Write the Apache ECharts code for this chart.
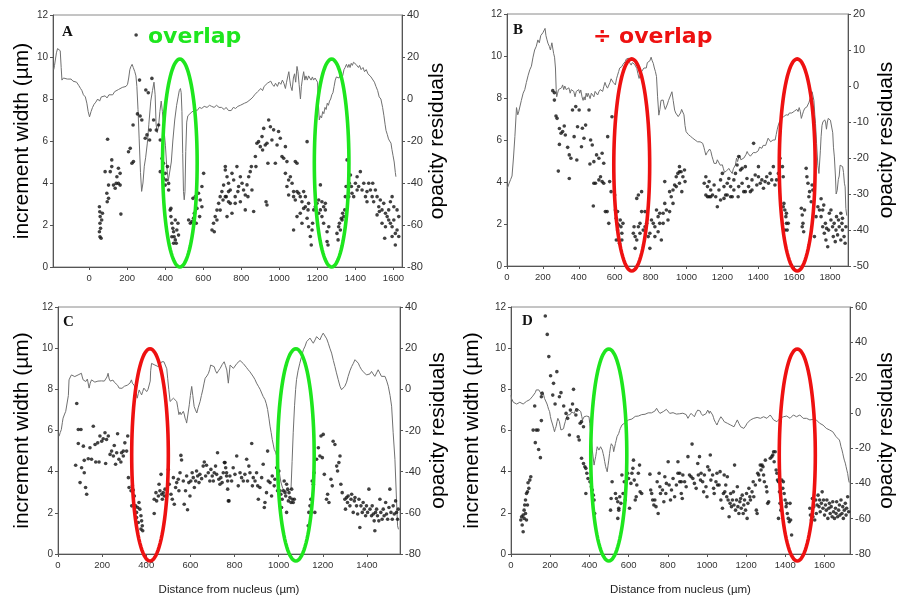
<!DOCTYPE html>
<html>
<head>
<meta charset="utf-8">
<script src="https://cdn.jsdelivr.net/npm/echarts@6/dist/echarts.min.js"></script>
<style>html,body{margin:0;padding:0;background:#fff}#c{width:898px;height:597px}</style>
</head>
<body>
<div id="c"></div>
<script>
// ---------- tick labels ----------
const xTicksA = [0,200,400,600,800,1000,1200,1400,1600];
const xTicksB = [0,200,400,600,800,1000,1200,1400,1600,1800];
const xTicksC = [0,200,400,600,800,1000,1200,1400];
const xTicksD = [0,200,400,600,800,1000,1200,1400,1600];
const leftTicks = [0,2,4,6,8,10,12];
const rightTicksA = [-80,-60,-40,-20,0,20,40];
const rightTicksB = [-50,-40,-30,-20,-10,0,10,20];
const rightTicksC = [-80,-60,-40,-20,0,20,40];
const rightTicksD = [-80,-60,-40,-20,0,20,40,60];

// ---------- opacity residuals (line, right axis) [distance, residual] ----------
const lineA = [[-186,14],[-182,16],[-172,22],[-166,24],[-160,23.5],[-152,23],[-147,15],[-143,9],[-135,10],[-126,9.5],[-115,9.5],[-105,9],[-95,9.5],[-85,8.5],[-75,9],[-66,8],[-55,6.5],[-45,5],[-38,4],[-30,2],[-20,1],[-12,-2],[-5,-6],[2,-8.5],[10,-6],[18,-4],[26,-2.5],[35,-1.5],[45,0],[55,-1],[64,1],[74,0.5],[84,1.5],[94,0.5],[104,2],[114,2.5],[124,2],[134,3.5],[144,3],[154,4.5],[164,4],[174,5.5],[184,5],[194,6],[202,7],[208,10],[214,14],[220,15.5],[226,16.5],[232,15],[240,13],[246,11],[251,6],[257,-5],[263,-19],[270,-35],[276,-44],[283,-40],[290,-32],[297,-28],[306,-21],[314,-12],[324,-1],[333,4],[341,8],[347,2],[352,-12],[358,-16],[365,-13],[372,-6],[379,-1],[385,-6],[393,-14],[401,-22],[408,-32],[416,-39],[424,-39],[432,-30],[440,-20],[450,-10],[460,-3],[468,1],[474,4],[480,5],[484,3],[488,-6],[492,-26],[496,-44],[500,-48],[504,-44],[508,-25],[513,-11],[519,-8],[527,-8],[536,-6.5],[545,-6],[557,-5],[568,-5.5],[580,-4],[592,-4.5],[605,-3.5],[620,-4],[633,-3],[644,-3.5],[657,-4],[670,-3],[683,-4],[696,-4],[710,-5],[720,-4],[733,-5.5],[747,-5.5],[758,-4],[770,-4.5],[782,-3.5],[795,-3],[805,-3.5],[817,-2],[830,-1.5],[840,-1],[851,0],[862,1],[870,2],[878,1.5],[886,3.5],[895,4],[903,5],[912,4],[920,6],[930,6.5],[937,7.5],[945,7],[955,8.5],[963,7],[972,6],[980,7.5],[990,6],[998,8],[1008,7],[1016,9],[1024,7.5],[1032,5],[1038,8],[1045,11],[1050,13],[1055,9],[1060,6],[1067,4],[1074,10],[1080,12],[1086,8],[1093,15.5],[1098,13],[1104,7],[1111,0],[1116,6],[1122,10],[1128,13],[1134,9],[1140,11],[1147,9],[1154,11],[1160,10],[1167,9],[1174,10.5],[1180,9],[1188,10],[1196,10.5],[1201,8],[1205,-2],[1210,-10],[1216,-8],[1222,-9],[1228,-6],[1234,-7],[1240,-4],[1246,-5],[1252,-2],[1258,-3],[1264,-1],[1270,0],[1276,2],[1282,3],[1288,6],[1294,9],[1300,10.5],[1307,11],[1314,10],[1320,11.5],[1327,12],[1333,11],[1340,14],[1346,15],[1353,16.5],[1360,15],[1366,16.5],[1372,15],[1378,17],[1384,16],[1390,17.5],[1396,18],[1403,16.5],[1410,17],[1416,15],[1422,16],[1430,14],[1440,15],[1448,13],[1457,14],[1466,12],[1474,12],[1482,10.5],[1491,10],[1500,8],[1508,6],[1517,4],[1525,1],[1534,0],[1543,-4],[1550,-8],[1556,-12],[1561,-15],[1568,-17],[1574,-19],[1580,-20],[1587,-21],[1592,-24],[1598,-27],[1604,-30],[1610,-35],[1613,-37]];

const lineB = [[2,-28.4],[12,-27],[20,-26],[28,-25],[36,-20],[44,-14],[53,-6],[60,-8],[66,-7],[72,-6.5],[80,-4],[90,-2],[99,-1],[108,1],[118,3],[127,4.5],[136,5.5],[145,8],[154,10],[163,11],[172,12.8],[180,12],[188,14],[195,13.5],[200,14.8],[207,15],[212,16],[217,14],[222,13],[228,11.9],[236,11],[242,10],[246,11],[250,12],[255,12],[260,9],[265,8],[270,5],[274,-1],[277,-3],[282,-2],[287,-1],[292,-0.6],[298,-1.5],[304,-0.5],[310,0.3],[316,-1],[322,0],[330,-1],[338,-1.1],[345,-0.5],[352,-2],[358,-1],[365,-0.6],[372,-1.5],[379,-3],[386,-1.5],[393,-2],[400,-1],[405,-2],[411,-1.1],[418,-3],[424,-4],[430,-3],[435,-3.9],[441,-2],[447,-3],[452,-2],[457,-2.5],[463,-3.5],[470,-2],[477,-2.5],[484,-3],[491,-1.5],[498,-1],[505,-2.5],[512,-1.6],[520,-1],[527,-0.5],[533,-1.5],[539,-0.2],[546,1],[553,0],[560,-0.6],[567,-0.6],[574,1],[580,2],[585,1.7],[592,1],[598,0.5],[604,0.3],[610,2],[616,3],[622,4],[628,5],[634,5],[640,5.4],[646,6],[652,6.5],[659,6.8],[665,7.5],[671,8],[677,7.7],[683,6.5],[688,6],[692,5.8],[698,6.5],[705,6.8],[711,6],[717,5.5],[723,4.9],[729,3.5],[736,2.1],[742,3],[750,4],[757,4.5],[763,5],[769,5.4],[776,5],[782,6.5],[789,7],[796,7],[803,8],[809,7],[815,6.3],[821,5],[827,4],[833,2.6],[839,-3],[846,-8.1],[852,-6.5],[858,-4],[864,-4.5],[870,-3.9],[876,-5.5],[882,-6.5],[888,-6.7],[894,-5],[900,-4],[906,-3.9],[912,-2.5],[919,-1.6],[926,-4],[934,-6.7],[940,-7.5],[947,-8],[954,-8.5],[961,-8.5],[967,-7.5],[973,-6.5],[980,-6.2],[986,-8],[992,-11],[998,-12.7],[1005,-12.5],[1011,-13.5],[1017,-13.1],[1023,-14],[1029,-13.5],[1035,-14.5],[1042,-14],[1048,-15],[1055,-14.5],[1062,-15.5],[1069,-15],[1076,-15.5],[1083,-16],[1090,-15.9],[1097,-17],[1102,-18],[1108,-19.2],[1115,-18.5],[1122,-18],[1129,-17.5],[1136,-18.2],[1142,-19.5],[1148,-20.5],[1154,-21.5],[1160,-21],[1166,-21.5],[1172,-20.5],[1177,-21],[1182,-21],[1188,-22],[1194,-21.5],[1200,-21.9],[1206,-23],[1212,-24],[1218,-24.3],[1224,-23.5],[1231,-23],[1237,-22.9],[1243,-23.5],[1249,-24],[1255,-24.3],[1261,-23],[1267,-22.5],[1273,-21.9],[1279,-20],[1285,-21],[1291,-19.8],[1297,-19.2],[1303,-20.5],[1309,-20],[1314,-20.6],[1320,-20],[1326,-19.5],[1332,-19],[1338,-18.2],[1344,-18.8],[1350,-19],[1356,-19.5],[1365,-19.6],[1372,-18.5],[1379,-18],[1386,-18.5],[1393,-18.2],[1400,-18],[1407,-17],[1414,-17.5],[1420,-17.3],[1427,-16.5],[1434,-16],[1441,-16.5],[1448,-15.5],[1455,-14.5],[1462,-15],[1469,-15.5],[1475,-15.9],[1482,-15],[1488,-14.5],[1494,-15],[1500,-13.5],[1506,-12],[1512,-10.8],[1518,-10],[1524,-9.5],[1530,-9],[1536,-9.2],[1542,-8.5],[1548,-8.8],[1555,-8],[1561,-8.5],[1567,-8.1],[1573,-7.5],[1580,-8],[1587,-7.5],[1594,-7.6],[1601,-7],[1608,-7.5],[1615,-6.5],[1622,-7.1],[1628,-6],[1634,-7],[1640,-9],[1646,-8],[1652,-7],[1659,-6.2],[1665,-6],[1671,-5.8],[1677,-5.3],[1683,-4.5],[1689,-3.5],[1695,-2.5],[1700,-1.6],[1705,-1.6],[1710,-4],[1715,-8],[1719,-10.4],[1725,-16],[1732,-22],[1738,-24.3],[1742,-24.7],[1746,-18],[1750,-14.1],[1755,-11],[1760,-10],[1765,-10],[1770,-9.4],[1775,-10],[1780,-12],[1785,-10],[1790,-9],[1796,-9.2],[1802,-9.5],[1807,-9.8],[1811,-10],[1815,-13],[1819,-17],[1824,-19.7],[1830,-25],[1834,-30],[1840,-29],[1846,-26],[1851,-25],[1856,-22],[1861,-21.5],[1866,-21.8],[1870,-22.4],[1875,-24],[1880,-27],[1884,-28],[1888,-34],[1893,-36]];

const lineC = [[5,-22.8],[10,-21],[15,-19.6],[20,-16],[23,-14],[30,-12],[35,-10.7],[42,-11],[47,-3],[50,4.6],[56,6],[61,7],[68,6.5],[76,6.2],[83,7],[91,7],[98,6.5],[106,7.8],[110,6],[114,4.6],[120,5],[126,3.8],[133,5],[141,0.6],[146,3],[152,4.6],[160,4],[167,3.5],[174,3],[181,4],[189,4.5],[197,4.1],[204,5],[210,4],[217,4.6],[222,6],[227,7.8],[232,5],[237,4],[242,3.8],[249,4.5],[255,3.5],[262,3],[270,2],[277,0.6],[284,1],[290,0.5],[295,0.6],[301,1.5],[308,2.2],[314,2],[320,2.5],[326,3],[333,4.6],[337,3],[341,2.2],[345,2],[348,1.4],[353,-1],[359,-4.3],[364,-2],[368,-0.3],[373,-1.5],[379,-2.7],[384,-1],[389,0.6],[395,0],[402,-1.1],[408,0],[414,0.6],[418,4],[420,9],[424,12.6],[430,12],[439,11.8],[447,11.5],[455,11],[462,12],[470,13.4],[475,12.5],[480,13.4],[485,13],[489,14.2],[493,10],[497,5.4],[502,0],[508,-5.9],[515,-5],[523,-4.3],[530,-5],[538,-5.9],[543,-9],[548,-12.3],[553,-11],[558,-12.3],[563,-11.5],[568,-10.7],[572,-12],[576,-14],[580,-15],[583,-16.4],[589,-12],[595,-7.5],[600,-3],[606,1.4],[611,-3],[617,-8.3],[623,-10],[629,-11.5],[635,-9],[644,-5.9],[650,-3],[656,-0.3],[662,3],[667,5.4],[675,6.5],[682,7.8],[687,9.5],[692,11.8],[700,11.5],[708,11],[714,9],[720,7.8],[727,9],[735,10.2],[744,12],[753,13.4],[759,11.5],[765,9.4],[772,3],[780,11.8],[787,12.7],[795,10.2],[802,9.5],[811,12.6],[817,13.5],[825,14],[832,13.5],[840,12.5],[847,11.9],[855,10.5],[862,9.5],[870,8.5],[878,7.9],[886,6],[893,4.7],[900,3],[908,1.5],[916,0],[923,-1.8],[930,-3.5],[938,-5],[944,-7],[950,-9.8],[956,-14],[961,-17.9],[966,-21],[971,-24.4],[976,-27],[980,-29.2],[986,-30.5],[991,-32.4],[995,-35],[998,-37.3],[1004,-41],[1010,-45],[1018,-48],[1026,-49],[1036,-49.4],[1046,-49],[1052,-48.8],[1056,-48.5],[1061,-35],[1066,-21.1],[1072,-8],[1077,0],[1081,4.7],[1088,9],[1096,12.7],[1104,16],[1112,19.2],[1120,21],[1127,23.2],[1134,24],[1142,24.9],[1150,23.5],[1157,22.4],[1165,24],[1172,25.6],[1180,25],[1187,24],[1195,26],[1202,27.3],[1206,28],[1210,26.5],[1218,24.5],[1225,22.4],[1232,20],[1240,17.6],[1248,14],[1255,11.1],[1262,8],[1270,4.7],[1278,1.5],[1285,-0.2],[1292,0],[1300,1.5],[1308,3.5],[1315,6.3],[1323,9],[1331,11.1],[1338,12.5],[1346,14.4],[1353,14],[1361,12.7],[1368,11],[1376,9.5],[1384,8.5],[1391,7.9],[1398,7],[1406,6.3],[1414,7.5],[1421,8.7],[1428,7.5],[1436,6.3],[1444,8],[1451,9.5],[1458,8],[1466,6.3],[1474,6.5],[1482,6.3],[1490,4],[1497,1.5],[1505,-3],[1512,-8.2],[1519,-21.1],[1527,-34],[1534,-53.4],[1539,-66.3],[1543,-68]];

const lineD = [[0,10],[3,8],[12,6],[20,6],[29,5],[37,5.5],[45,6],[53,5],[62,5],[70,5.5],[79,6.5],[87,7],[96,7.5],[104,8.5],[111,9.5],[118,10.5],[124,11.5],[129,13],[134,12],[138,12],[142,13],[146,13],[150,11.5],[155,11.1],[159,12],[163,12],[167,10],[171,8.2],[176,7.5],[180,7.3],[184,5],[188,3.5],[192,2],[197,0.7],[201,-2],[205,-4],[209,-5],[213,-6.9],[218,-9],[222,-10.7],[226,-9],[230,-7.8],[235,-5],[239,-3.1],[243,-4],[247,-5],[251,-7.5],[255,-9.7],[260,-10.5],[264,-10.7],[268,-9],[272,-6.9],[277,-5],[281,-3.1],[285,-2],[289,-1.2],[294,-0.5],[298,-0.3],[302,-1],[306,-1.2],[310,0.5],[314,1.6],[319,0.5],[323,-0.3],[327,1],[331,2.6],[335,2],[339,1.6],[343,2],[348,2.6],[352,1.5],[356,0.7],[361,-2],[365,-4],[369,-3],[373,-2.2],[377,-1.5],[381,-1.2],[386,-1.8],[390,-2.2],[394,-2.5],[398,-2.2],[402,-6],[407,-11.6],[411,-16],[415,-21.1],[419,-25],[424,-29.6],[428,-27],[432,-24.9],[436,-22],[440,-19.2],[444,-20],[449,-21.1],[453,-20],[457,-19.2],[461,-20],[466,-21.1],[470,-23],[474,-24.9],[478,-27.5],[483,-30.5],[487,-32],[491,-33.4],[495,-30],[499,-26.8],[503,-23],[508,-19.2],[512,-17.5],[516,-16.4],[520,-19],[524,-22],[528,-20],[533,-17.3],[537,-15.5],[541,-13.5],[545,-12.5],[550,-11.6],[554,-10],[558,-8.8],[562,-7.8],[566,-6.9],[570,-6.5],[575,-5.9],[583,-5.5],[592,-5],[600,-4],[608,-3.1],[617,-3.5],[625,-3.1],[634,-2],[642,-1.2],[650,-1.8],[659,-2.2],[667,-1],[676,-0.3],[684,-0.8],[692,-1.2],[700,0],[709,0.7],[717,0],[726,-0.3],[734,1],[743,2.6],[751,1],[760,-0.3],[768,0.5],[777,0.7],[785,1.5],[793,2],[801,1],[810,-0.3],[818,0],[827,0.1],[835,-0.5],[844,-0.7],[852,-0.3],[861,-0.5],[869,-1.2],[877,-0.2],[886,0.7],[894,-1],[903,-3.1],[911,-1.5],[919,-0.3],[928,-1],[936,-2.2],[944,0],[953,1.6],[961,2.6],[966,1],[970,-0.3],[978,-1.5],[987,-2.2],[995,-0.5],[1004,1.6],[1008,0.5],[1012,-0.3],[1016,1],[1020,1.6],[1025,0],[1029,-1.2],[1033,-2.5],[1037,-4],[1044,-5.5],[1051,-6.9],[1056,-5.5],[1062,-4],[1067,-3],[1071,-2.2],[1080,-3.5],[1088,-5],[1096,-5.5],[1104,-5.9],[1113,-6.5],[1121,-6.9],[1130,-7.5],[1138,-7.9],[1146,-6],[1155,-4],[1163,-6],[1172,-7.9],[1180,-8.5],[1188,-8.8],[1197,-7.5],[1205,-5.9],[1214,-5],[1222,-4],[1231,-3.5],[1239,-3.1],[1248,-2.8],[1256,-2.6],[1264,-3],[1273,-3.1],[1281,-2.5],[1289,-2.2],[1298,-2.8],[1306,-3.1],[1315,-2],[1323,-1.2],[1331,-2.5],[1340,-4],[1348,-4.5],[1357,-5],[1365,-4],[1373,-3.1],[1382,-2.5],[1390,-2.2],[1398,-2],[1407,-1.8],[1416,-2.5],[1424,-3.1],[1432,-2],[1441,-1.2],[1449,-1.8],[1457,-2.2],[1466,-1.5],[1474,-1.2],[1482,-2],[1491,-3.1],[1500,-3],[1508,-3.1],[1516,-3.5],[1525,-4],[1533,-3.8],[1541,-3.7],[1550,-3.8],[1558,-4],[1566,-5],[1575,-5.9],[1583,-6.5],[1592,-6.9],[1600,-8],[1609,-8.8],[1617,-9.2],[1626,-9.7],[1634,-10],[1642,-10.7],[1650,-12],[1659,-13.5],[1667,-14.5],[1676,-15.4],[1680,-17],[1684,-19.2],[1689,-21],[1693,-22.9],[1697,-25],[1701,-26.8],[1706,-28.5],[1710,-30.5],[1714,-32.5],[1718,-34.3],[1723,-38.1],[1726,-39.5]];

// ---------- increment width (dots, left axis) [distance, width] ----------
const dotsA = [[247,11.05],[54,2.87],[56,2.63],[58,2.4],[57,2.08],[60,1.84],[54,1.68],[57,1.44],[63,1.37],[66,2.24],[70,2.56],[84,4.54],[93,3.51],[102,3.9],[111,4.54],[119,5.1],[97,6.08],[119,4.78],[128,3.9],[137,3.75],[142,3.98],[146,4.3],[154,3.98],[163,4.46],[154,4.7],[163,3.9],[167,2.52],[95,3.11],[102,3.27],[207,5.49],[216,5.65],[225,4.94],[233,5.02],[231,6.76],[254,7.29],[268,7.19],[277,7.0],[265,8.9],[298,8.43],[311,8.3],[295,6.13],[304,6.29],[321,6.52],[318,6.05],[330,8.98],[339,7.0],[353,6.52],[365,6.76],[374,6.05],[383,5.17],[391,4.94],[400,4.46],[374,4.54],[391,4.22],[405,4.14],[412,4.78],[418,3.98],[400,3.9],[418,3.67],[426,2.71],[430,2.4],[435,2.08],[440,1.84],[444,1.68],[447,1.44],[453,1.29],[458,1.13],[444,1.13],[461,1.76],[467,2.08],[430,2.79],[453,2.24],[470,1.52],[435,1.44],[523,2.24],[532,2.08],[540,2.16],[549,2.32],[553,2.56],[546,3.27],[558,3.35],[567,2.79],[575,3.51],[584,3.19],[593,2.87],[563,2.08],[602,4.46],[581,2.4],[593,3.83],[646,1.76],[654,2.08],[663,2.4],[672,2.71],[681,3.03],[689,3.35],[698,3.59],[707,3.9],[716,4.78],[658,1.68],[672,2.24],[689,2.71],[704,3.19],[721,3.35],[725,2.4],[733,3.59],[742,3.03],[716,4.62],[725,4.3],[733,3.99],[742,3.67],[716,3.35],[733,3.11],[751,4.46],[760,4.14],[768,3.35],[777,4.78],[786,3.83],[795,4.3],[751,2.56],[768,3.03],[782,3.59],[795,3.11],[804,3.99],[812,3.67],[821,3.43],[821,2.72],[830,3.91],[839,4.3],[847,4.54],[853,4.78],[856,3.67],[865,2.64],[835,3.35],[874,5.26],[882,5.89],[891,5.97],[900,5.73],[909,6.21],[918,6.6],[926,5.81],[935,5.89],[944,7.0],[953,6.68],[961,6.05],[970,6.53],[979,4.94],[988,5.81],[996,6.45],[1005,6.13],[1014,5.26],[1023,5.18],[1032,5.73],[1040,5.02],[1049,4.14],[877,4.78],[912,5.57],[930,3.11],[935,2.95],[940,4.94],[1032,4.46],[1040,3.83],[1049,3.43],[1058,4.3],[1067,3.99],[1075,3.59],[1084,5.02],[1093,4.94],[1075,3.35],[1084,3.19],[1093,3.59],[1102,3.51],[1110,3.35],[1119,3.11],[1128,3.59],[1137,2.87],[1075,1.76],[1093,2.4],[1110,2.56],[1119,2.08],[1128,2.79],[1137,3.35],[1146,5.97],[1146,2.32],[1151,2.72],[1154,1.92],[1163,1.45],[1168,1.05],[1172,1.76],[1175,2.08],[1154,3.03],[1181,2.72],[1189,2.87],[1198,3.03],[1207,3.19],[1216,2.72],[1224,3.11],[1233,2.87],[1216,3.91],[1242,3.03],[1207,2.56],[1224,2.4],[1233,2.08],[1242,2.72],[1251,1.21],[1256,1.05],[1260,1.92],[1251,1.68],[1303,1.6],[1309,1.29],[1312,1.92],[1316,2.08],[1321,1.76],[1326,2.32],[1330,2.24],[1333,2.56],[1339,2.4],[1344,2.72],[1347,3.35],[1356,5.1],[1351,3.83],[1365,3.35],[1368,3.99],[1374,4.38],[1379,3.83],[1382,3.51],[1391,3.35],[1400,3.99],[1409,4.3],[1417,3.83],[1426,4.54],[1435,3.67],[1444,3.99],[1453,3.35],[1461,3.59],[1470,3.99],[1479,3.67],[1488,3.35],[1496,3.11],[1505,3.67],[1514,3.35],[1523,2.87],[1531,3.19],[1540,2.72],[1549,3.03],[1558,2.56],[1567,2.4],[1575,2.72],[1584,2.08],[1593,1.92],[1602,2.24],[1610,1.6],[1619,1.76],[1628,1.45],[1610,1.05],[1628,2.4],[1602,2.87],[1619,2.72],[1540,2.08],[1526,2.64],[1514,2.48],[1558,1.92],[1575,2.24],[1593,1.45],[1554,1.37],[1593,3.35],[1584,3.11],[1491,3.99],[1461,3.11],[1409,3.67]];

const dotsB = [[255,8.35],[264,8.25],[264,7.9],[273,7.14],[279,7.03],[292,6.55],[301,6.32],[310,6.4],[319,6.67],[325,6.24],[292,5.79],[286,4.52],[338,5.65],[347,5.29],[356,5.13],[347,4.17],[365,7.43],[383,7.59],[402,7.43],[374,6.16],[393,6.63],[420,6.56],[429,6.08],[438,6.71],[389,5.05],[415,5.68],[457,7.43],[466,6.0],[475,5.76],[462,4.86],[484,4.97],[499,5.29],[512,5.13],[530,5.37],[539,4.89],[484,3.94],[493,3.94],[512,4.1],[521,4.25],[530,4.02],[539,3.94],[481,2.86],[548,2.59],[558,2.59],[567,2.03],[572,4.02],[580,3.54],[585,7.11],[561,6.16],[600,3.38],[604,2.67],[609,2.27],[613,2.03],[616,1.71],[622,1.24],[627,1.08],[631,2.19],[635,1.87],[640,1.56],[622,1.95],[609,1.24],[616,2.59],[646,2.03],[640,1.24],[714,0.84],[723,3.22],[732,3.38],[750,3.54],[704,1.56],[714,1.4],[723,1.24],[732,1.87],[741,2.03],[759,1.71],[750,2.59],[769,2.59],[778,2.03],[787,1.4],[796,0.84],[805,2.19],[815,2.03],[824,1.87],[833,2.67],[842,2.35],[851,2.03],[860,1.24],[870,2.51],[879,2.98],[888,2.67],[897,2.19],[906,2.59],[915,3.3],[925,3.62],[934,3.86],[943,4.25],[952,4.41],[961,4.49],[906,3.54],[925,2.98],[943,3.78],[879,4.02],[708,1.87],[741,1.56],[769,1.87],[796,1.56],[824,1.4],[842,1.63],[851,2.51],[870,2.03],[961,4.73],[970,4.49],[980,4.25],[989,4.57],[961,3.94],[974,3.54],[992,4.02],[1099,3.94],[1108,4.25],[1117,3.78],[1126,4.02],[1135,3.62],[1108,3.38],[1126,3.3],[1145,3.38],[1154,3.86],[1163,3.3],[1172,2.82],[1181,3.62],[1190,4.1],[1200,4.41],[1209,3.78],[1218,3.38],[1227,3.94],[1236,4.17],[1246,3.78],[1255,3.3],[1264,3.62],[1273,4.41],[1282,4.81],[1291,5.21],[1301,4.57],[1310,3.94],[1319,3.54],[1328,4.73],[1337,4.17],[1346,3.78],[1356,3.54],[1365,4.1],[1374,5.84],[1383,4.33],[1392,3.86],[1401,4.25],[1411,3.94],[1420,4.1],[1429,3.7],[1438,4.02],[1447,4.25],[1457,3.94],[1466,4.41],[1475,4.1],[1484,4.73],[1493,3.86],[1502,4.1],[1512,4.41],[1521,5.13],[1288,3.3],[1310,4.65],[1328,3.54],[1365,3.62],[1401,4.73],[1291,3.78],[1246,3.3],[1227,3.38],[1190,3.14],[1135,3.3],[1117,3.3],[1209,3.22],[1264,4.1],[1535,4.73],[1539,4.25],[1543,2.98],[1548,2.67],[1554,2.35],[1557,2.03],[1561,1.71],[1539,2.82],[1557,2.51],[1567,2.03],[1548,1.71],[1640,2.75],[1645,2.43],[1649,2.03],[1653,1.63],[1658,2.67],[1645,1.87],[1667,4.65],[1671,4.25],[1677,3.94],[1682,3.3],[1686,3.54],[1695,3.06],[1704,3.62],[1700,3.86],[1713,1.4],[1722,2.35],[1732,2.82],[1741,2.67],[1750,2.35],[1759,1.87],[1768,1.56],[1777,1.24],[1787,0.92],[1774,2.03],[1796,2.51],[1805,2.19],[1814,1.87],[1823,2.03],[1833,1.71],[1842,1.48],[1851,1.87],[1860,1.24],[1869,1.71],[1878,1.4],[1888,1.87],[1792,1.71],[1818,1.4],[1847,2.19],[1866,2.03],[1884,1.08],[1759,2.67],[1805,2.67],[1836,2.35],[1860,2.51],[1781,1.79],[1829,1.16],[1869,2.27],[1750,3.2],[1765,2.9]];

const dotsC = [[85,7.31],[80,4.31],[92,6.05],[104,6.05],[92,5.37],[100,3.47],[107,4.19],[115,5.24],[119,3.95],[125,3.23],[130,2.9],[119,4.55],[137,4.63],[145,5.16],[152,4.6],[160,6.21],[168,5.32],[171,4.47],[180,5.4],[186,4.47],[190,5.73],[198,5.48],[205,5.6],[213,5.89],[216,4.4],[220,5.56],[228,5.73],[236,4.84],[243,5.0],[251,4.76],[255,5.27],[261,4.36],[266,4.92],[270,5.84],[276,4.6],[285,4.47],[288,4.92],[296,5.0],[303,5.4],[311,5.0],[316,5.73],[296,4.76],[319,3.71],[322,3.23],[331,3.07],[337,3.31],[341,3.11],[346,2.82],[334,2.34],[352,2.34],[356,2.02],[361,2.26],[367,2.5],[371,2.18],[376,1.86],[379,1.61],[382,1.37],[384,1.13],[376,1.21],[356,1.77],[364,1.53],[436,1.97],[436,2.66],[444,2.98],[447,2.58],[455,2.82],[458,3.39],[462,3.07],[467,3.87],[470,2.9],[473,2.66],[477,2.98],[482,2.82],[485,3.15],[492,2.82],[500,4.11],[504,3.39],[512,2.9],[518,2.66],[523,3.71],[527,2.42],[533,3.23],[538,3.47],[545,3.63],[548,3.07],[553,3.95],[557,4.79],[560,4.57],[568,3.55],[572,2.42],[578,3.07],[583,3.79],[587,2.15],[593,3.47],[598,2.82],[602,3.55],[608,3.95],[613,3.71],[618,3.23],[624,3.55],[628,4.03],[633,3.79],[639,3.47],[643,3.87],[651,3.66],[658,4.27],[663,4.47],[669,3.79],[673,4.31],[681,3.95],[688,3.55],[693,4.11],[699,3.79],[704,3.55],[708,3.95],[714,4.27],[719,3.87],[723,4.92],[729,3.63],[734,3.39],[738,3.71],[744,3.47],[749,3.95],[754,4.44],[760,4.19],[764,3.79],[769,3.55],[772,2.58],[757,4.44],[764,3.95],[769,3.15],[775,2.58],[779,3.79],[787,3.55],[794,4.19],[802,3.87],[810,4.76],[817,3.31],[825,3.95],[832,3.71],[840,3.55],[847,3.87],[855,4.6],[859,3.55],[865,4.27],[870,3.95],[878,5.37],[881,3.31],[885,3.71],[893,3.55],[900,3.95],[905,3.31],[908,2.66],[915,3.23],[923,3.71],[930,4.36],[935,2.26],[938,2.5],[945,2.98],[950,5.0],[953,3.55],[961,3.47],[968,2.82],[971,3.79],[980,3.31],[983,3.63],[991,4.19],[995,3.07],[1001,4.03],[1006,3.07],[1010,2.9],[1013,2.26],[1016,2.66],[1021,3.07],[1025,3.55],[1029,2.98],[1032,2.82],[1036,2.02],[1041,3.15],[1044,2.58],[1047,2.98],[1051,2.74],[1056,2.5],[1059,3.15],[1062,2.66],[1066,2.5],[1071,2.66],[1036,3.39],[1134,1.37],[1137,2.02],[1142,2.34],[1146,2.66],[1152,3.55],[1157,3.39],[1161,3.95],[1164,2.02],[1172,4.6],[1180,5.16],[1187,4.76],[1192,5.73],[1198,4.68],[1202,5.81],[1207,3.87],[1217,2.66],[1222,2.9],[1228,2.5],[1237,3.63],[1243,3.31],[1247,5.48],[1255,5.32],[1263,4.27],[1267,4.03],[1273,4.44],[1278,4.76],[1282,3.39],[1288,2.98],[1300,2.66],[1303,2.18],[1308,2.74],[1312,2.5],[1315,2.82],[1323,2.34],[1328,2.66],[1331,2.9],[1338,2.02],[1343,2.58],[1346,2.74],[1353,2.34],[1358,1.94],[1364,2.66],[1368,1.29],[1373,2.34],[1379,2.02],[1383,2.5],[1388,2.18],[1394,1.86],[1398,2.34],[1403,2.02],[1409,3.15],[1414,2.18],[1421,1.86],[1424,2.34],[1429,1.94],[1433,1.61],[1436,1.13],[1439,2.02],[1444,2.18],[1448,1.86],[1454,1.61],[1459,2.66],[1463,2.02],[1469,1.69],[1474,2.18],[1478,1.86],[1485,2.5],[1489,1.94],[1494,1.69],[1500,2.26],[1504,3.15],[1509,2.02],[1515,1.69],[1519,2.34],[1524,1.94],[1530,2.58],[1534,2.02],[1539,1.69],[1542,2.18]];

const dotsD = [[175,11.56],[185,10.67],[193,9.59],[202,8.66],[217,8.29],[234,8.86],[213,7.72],[225,7.29],[247,7.64],[255,7.84],[269,7.19],[281,6.83],[289,6.59],[298,5.78],[303,6.99],[314,7.29],[319,8.0],[331,6.75],[336,6.99],[343,5.7],[353,6.35],[360,6.43],[370,6.18],[348,5.54],[155,7.64],[158,7.8],[121,7.19],[113,6.02],[129,6.02],[138,6.02],[124,5.41],[141,5.08],[150,4.68],[155,6.48],[50,1.65],[54,1.81],[57,1.41],[62,1.08],[62,1.89],[67,2.13],[70,2.38],[74,2.62],[79,2.94],[84,3.02],[87,3.46],[91,3.19],[96,3.59],[101,3.75],[79,1.65],[67,1.73],[74,1.97],[84,2.38],[360,4.65],[370,4.4],[377,4.24],[382,4.16],[387,3.92],[382,2.94],[393,3.67],[403,3.51],[410,3.27],[415,3.11],[420,2.86],[427,1.97],[424,2.62],[516,3.51],[511,2.7],[508,2.13],[533,2.94],[538,2.7],[545,2.54],[550,2.22],[545,1.73],[555,2.78],[561,2.46],[566,3.84],[572,2.94],[550,2.13],[578,3.51],[583,2.62],[595,3.92],[600,3.67],[605,2.22],[612,3.43],[617,3.92],[622,4.16],[625,4.56],[629,3.59],[634,2.62],[639,2.78],[642,3.35],[650,3.92],[656,4.32],[659,3.02],[667,2.94],[709,3.88],[713,3.11],[718,2.94],[723,2.62],[729,2.38],[734,2.62],[740,2.3],[746,3.51],[751,1.97],[756,3.92],[760,3.27],[763,2.94],[773,3.11],[780,2.54],[785,3.75],[790,2.94],[793,3.43],[802,4.48],[807,3.35],[814,2.62],[819,3.11],[827,3.67],[835,2.78],[844,3.35],[852,3.92],[861,3.51],[869,2.94],[874,2.7],[852,4.48],[861,3.92],[869,3.51],[877,3.84],[886,3.51],[894,3.27],[903,4.73],[911,3.84],[919,3.75],[924,5.34],[928,3.67],[936,3.43],[945,3.19],[953,4.4],[956,3.84],[962,4.73],[967,3.59],[970,3.92],[978,3.51],[983,3.02],[987,3.84],[995,3.27],[1000,2.78],[1004,4.24],[1012,4.08],[1017,4.81],[1020,3.59],[1029,3.84],[1034,3.19],[1037,2.94],[1046,3.51],[1051,3.92],[1054,3.35],[1062,3.35],[1067,4.0],[1071,2.62],[1079,2.22],[1084,2.94],[1088,3.84],[1091,3.02],[1096,3.35],[1101,2.78],[1104,3.75],[1108,2.62],[1113,1.81],[1118,2.46],[1121,2.94],[1125,2.3],[1130,2.62],[1135,3.02],[1138,2.38],[1141,4.32],[1146,2.13],[1151,2.62],[1155,3.27],[1158,2.3],[1163,1.97],[1168,2.54],[1172,2.7],[1175,2.22],[1180,2.86],[1185,1.97],[1188,2.38],[1192,2.62],[1197,2.13],[1202,2.94],[1205,1.73],[1209,2.46],[1214,3.19],[1219,2.78],[1222,2.62],[1230,3.02],[1236,3.51],[1239,2.78],[1247,3.35],[1252,2.13],[1256,1.97],[1259,3.92],[1264,3.84],[1269,3.59],[1272,4.32],[1276,4.08],[1281,4.32],[1286,4.24],[1289,3.84],[1293,3.51],[1298,4.56],[1303,3.27],[1306,3.02],[1310,2.46],[1315,2.54],[1323,4.65],[1331,4.73],[1336,4.81],[1340,4.97],[1343,4.48],[1348,4.97],[1353,4.08],[1357,3.92],[1360,3.59],[1365,3.51],[1370,3.02],[1373,2.46],[1377,2.13],[1382,3.59],[1387,3.19],[1390,3.51],[1394,2.94],[1399,2.62],[1404,2.3],[1407,2.46],[1410,1.97],[1415,1.73],[1420,1.57],[1424,2.46],[1427,1.65],[1432,0.92],[1365,1.73],[1525,2.22],[1528,1.89],[1533,1.65],[1538,2.7],[1541,1.81],[1545,2.3],[1550,1.65],[1555,2.62],[1558,1.97],[1562,2.38],[1567,2.86],[1572,2.3],[1575,2.62],[1578,2.05],[1584,2.46],[1588,3.02],[1592,2.22],[1595,2.62],[1600,1.89],[1605,2.38],[1609,2.13],[1612,2.62],[1617,1.73],[1622,2.22],[1625,2.46],[1629,1.97],[1634,2.3],[1639,1.81],[1642,2.54],[1646,2.05],[1651,1.73],[1656,2.22],[1659,1.97],[1662,2.54],[1667,1.81],[1672,2.13],[1676,2.38],[1679,1.89],[1684,2.62],[1689,1.97],[1693,2.3],[1696,1.73],[1701,2.13],[1706,2.46],[1710,1.89],[1713,2.22],[1718,2.78],[1723,2.05]];

// ---------- annotation ellipses: [centre distance, top width, bottom width, half-width in distance, overlap(1)/no overlap(0)] ----------
const ellipsesA = [[477,9.9,0.0,91,1],[1275,9.9,0.0,91,1]];
const ellipsesB = [[695,9.86,-0.24,100,0],[1617,9.86,-0.24,100,0]];
const ellipsesC = [[417,9.97,-0.34,83,0],[1078,9.97,-0.34,83,1]];
const ellipsesD = [[499,9.96,-0.34,92,1],[1461,9.96,-0.34,92,0]];

// ---------- build chart ----------
const FONT = '"Liberation Sans", Arial, sans-serif';
const GREEN = '#1ee61e', RED = '#ee1111';
const panels = [
  {g:{left:53,top:15,width:349,height:252}, xr:[-190,1645], xt:xTicksA, rr:[-80,40], rt:rightTicksA, line:lineA, dots:dotsA, ell:ellipsesA, leftName:true, xName:false, gapL:20, gapR:25},
  {g:{left:507,top:14,width:345,height:252}, xr:[0,1900], xt:xTicksB, rr:[-50,20], rt:rightTicksB, line:lineB, dots:dotsB, ell:ellipsesB, leftName:false, xName:false, gapL:20, gapR:28},
  {g:{left:58,top:307,width:342,height:248}, xr:[0,1550], xt:xTicksC, rr:[-80,40], rt:rightTicksC, line:lineC, dots:dotsC, ell:ellipsesC, leftName:true, xName:true, gapL:25, gapR:28},
  {g:{left:511,top:307,width:343,height:247}, xr:[0,1730], xt:xTicksD, rr:[-80,60], rt:rightTicksD, line:lineD, dots:dotsD, ell:ellipsesD, leftName:true, xName:true, gapL:28, gapR:26}
];

const grid = [], xAxis = [], yAxis = [], series = [];
const axisCol = '#555';
const plain = v => String(v);

function ellipseRender(params, api) {
  const cx = api.value(0), yt = api.value(1), yb = api.value(2), hw = api.value(3), kind = api.value(4);
  const top = api.coord([cx, yt]);
  const bot = api.coord([cx, yb]);
  const side = api.coord([cx + hw, yt]);
  const rx = side[0] - top[0];
  const ry = (bot[1] - top[1]) / 2;
  const cy = (top[1] + bot[1]) / 2;
  const pts = [];
  for (let k = 0; k <= 96; k++) {
    const t = k / 96 * Math.PI * 2;
    pts.push([top[0] + rx * Math.cos(t), cy + ry * Math.sin(t)]);
  }
  return {type:'polygon', shape:{points:pts}, style:{fill:null, stroke: kind ? GREEN : RED, lineWidth:3.6}};
}

panels.forEach((p, i) => {
  grid.push(Object.assign({show:true, borderColor:'#8a8a8a', borderWidth:1, backgroundColor:'transparent'}, p.g));
  xAxis.push({
    type:'value', gridIndex:i, min:p.xr[0], max:p.xr[1],
    axisLine:{show:true, onZero:false, lineStyle:{color:axisCol}},
    axisTick:{show:true, length:3, customValues:p.xt, lineStyle:{color:axisCol}},
    axisLabel:{customValues:p.xt, formatter:plain, fontSize:9.5, color:'#333', margin:6, fontFamily:FONT},
    splitLine:{show:false},
    name: p.xName ? 'Distance from nucleus (\u00b5m)' : '',
    nameLocation:'middle', nameGap:30,
    nameTextStyle:{fontSize:11.5, color:'#222', fontFamily:FONT}
  });
  yAxis.push({
    type:'value', gridIndex:i, position:'left', min:0, max:12,
    axisLine:{show:true, onZero:false, lineStyle:{color:axisCol}},
    axisTick:{show:true, length:3, customValues:leftTicks, lineStyle:{color:axisCol}},
    axisLabel:{customValues:leftTicks, formatter:plain, fontSize:10, color:'#333', margin:5, fontFamily:FONT},
    splitLine:{show:false},
    name: p.leftName ? 'increment width (\u00b5m)' : '',
    nameLocation:'middle', nameRotate:90, nameGap:p.gapL,
    nameTextStyle:{fontSize:21, color:'#000', fontFamily:FONT}
  });
  yAxis.push({
    type:'value', gridIndex:i, position:'right', min:p.rr[0], max:p.rr[1],
    axisLine:{show:true, onZero:false, lineStyle:{color:axisCol}},
    axisTick:{show:true, length:3, customValues:p.rt, lineStyle:{color:axisCol}},
    axisLabel:{customValues:p.rt, formatter:plain, fontSize:11, color:'#333', margin:5, fontFamily:FONT},
    splitLine:{show:false},
    name:'opacity residuals',
    nameLocation:'middle', nameRotate:90, nameGap:p.gapR,
    nameTextStyle:{fontSize:21, color:'#000', fontFamily:FONT}
  });
  series.push({
    type:'line', xAxisIndex:i, yAxisIndex:2*i+1, data:p.line,
    showSymbol:false, symbol:'none', lineStyle:{color:'#707070', width:1}, z:2, silent:true
  });
  series.push({
    type:'scatter', xAxisIndex:i, yAxisIndex:2*i, data:p.dots,
    symbolSize:3.6, itemStyle:{color:'#111'}, z:3, silent:true
  });
  series.push({
    type:'custom', xAxisIndex:i, yAxisIndex:2*i, data:p.ell, clip:false,
    renderItem:ellipseRender, encode:{x:0, y:[1,2]}, z:5, silent:true
  });
});

const letterFont = 'bold 15px "Liberation Serif", "DejaVu Serif", serif';
const bigFont = 'bold 22px "DejaVu Sans", sans-serif';
const graphic = [
  {type:'text', left:62, top:25, style:{text:'A', font:letterFont, fill:'#111'}},
  {type:'text', left:513, top:23, style:{text:'B', font:letterFont, fill:'#111'}},
  {type:'text', left:63, top:315, style:{text:'C', font:letterFont, fill:'#111'}},
  {type:'text', left:522, top:314, style:{text:'D', font:letterFont, fill:'#111'}},
  {type:'text', x:148, y:37, style:{text:'overlap', font:bigFont, fill:GREEN, verticalAlign:'middle', align:'left'}},
  {type:'text', x:593, y:37, style:{text:'\u00f7 overlap', font:bigFont, fill:RED, verticalAlign:'middle', align:'left'}}
];

const chart = echarts.init(document.getElementById('c'), null, {renderer:'canvas'});
chart.setOption({animation:false, backgroundColor:'#fff', grid, xAxis, yAxis, series, graphic});
</script>
</body>
</html>
